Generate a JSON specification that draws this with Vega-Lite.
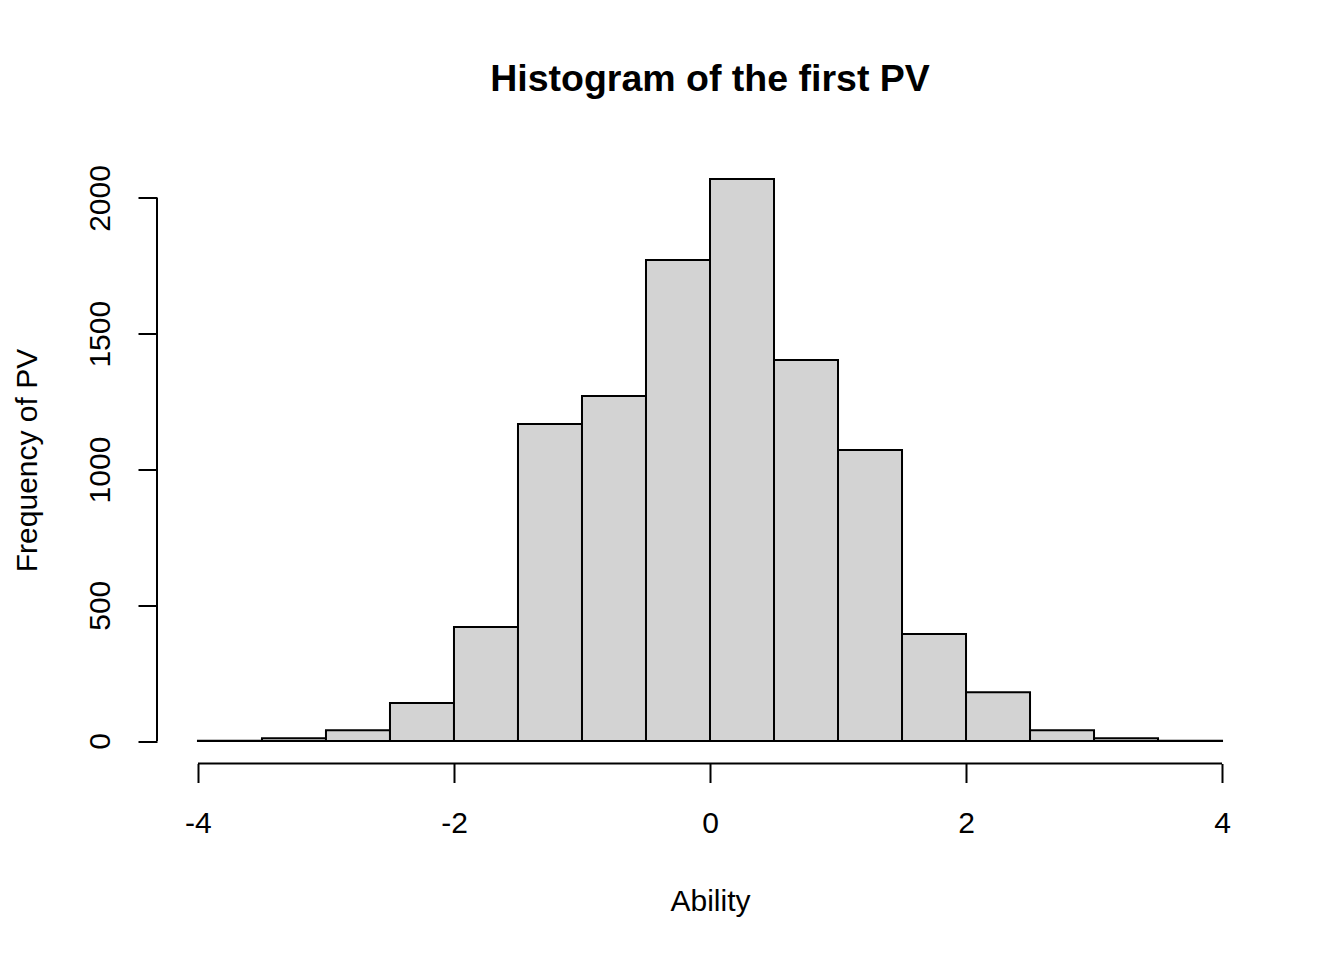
{
  "$schema": "https://vega.github.io/schema/vega-lite/v6.json",
  "width": 1106,
  "height": 607,
  "autosize": {"type": "none"},
  "padding": {"left": 157, "top": 156.5, "right": 81, "bottom": 196.5},
  "background": "white",
  "title": {
    "text": "Histogram of the first PV",
    "font": "Liberation Sans",
    "fontSize": 37.5,
    "fontWeight": "bold",
    "color": "black",
    "anchor": "middle",
    "frame": "group",
    "baseline": "alphabetic",
    "offset": 28
  },
  "config": {"view": {"stroke": null}},
  "layer": [
    {
      "data": {
        "values": [
          {"bin_start": -4.0, "bin_end": -3.5, "count": 1},
          {"bin_start": -3.5, "bin_end": -3.0, "count": 10},
          {"bin_start": -3.0, "bin_end": -2.5, "count": 40},
          {"bin_start": -2.5, "bin_end": -2.0, "count": 140},
          {"bin_start": -2.0, "bin_end": -1.5, "count": 420},
          {"bin_start": -1.5, "bin_end": -1.0, "count": 1168},
          {"bin_start": -1.0, "bin_end": -0.5, "count": 1271},
          {"bin_start": -0.5, "bin_end": 0.0, "count": 1772},
          {"bin_start": 0.0, "bin_end": 0.5, "count": 2070},
          {"bin_start": 0.5, "bin_end": 1.0, "count": 1403},
          {"bin_start": 1.0, "bin_end": 1.5, "count": 1072},
          {"bin_start": 1.5, "bin_end": 2.0, "count": 394},
          {"bin_start": 2.0, "bin_end": 2.5, "count": 180},
          {"bin_start": 2.5, "bin_end": 3.0, "count": 40},
          {"bin_start": 3.0, "bin_end": 3.5, "count": 10},
          {"bin_start": 3.5, "bin_end": 4.0, "count": 1}
        ]
      },
      "mark": {"type": "rect", "fill": "#D3D3D3", "stroke": "black", "strokeWidth": 2},
      "encoding": {
        "x": {
          "field": "bin_start",
          "type": "quantitative",
          "scale": {"domain": [-4.32, 4.32], "nice": false, "zero": false},
          "axis": {
            "values": [-4, -2, 0, 2, 4],
            "labelExpr": "'' + datum.value",
            "domain": false,
            "grid": false,
            "tickSize": 19,
            "tickWidth": 2,
            "tickColor": "black",
            "labelFont": "Liberation Sans",
            "labelFontSize": 30,
            "labelColor": "black",
            "labelPadding": 26,
            "labelFlush": false,
            "labelOverlap": false,
            "title": "Ability",
            "titleFont": "Liberation Sans",
            "titleFontSize": 30,
            "titleFontWeight": "normal",
            "titleColor": "black",
            "titleBaseline": "alphabetic",
            "titleAlign": "center",
            "titleX": 553,
            "titleY": 146.5
          }
        },
        "x2": {"field": "bin_end"},
        "y": {
          "field": "count",
          "type": "quantitative",
          "scale": {"domain": [-82.8, 2152.8], "nice": false, "zero": false},
          "axis": {
            "values": [0, 500, 1000, 1500, 2000],
            "labelExpr": "'' + datum.value",
            "domain": false,
            "grid": false,
            "tickSize": 19,
            "tickWidth": 2,
            "tickColor": "black",
            "labelFont": "Liberation Sans",
            "labelFontSize": 30,
            "labelColor": "black",
            "labelAngle": -90,
            "labelAlign": "center",
            "labelBaseline": "bottom",
            "labelPadding": 23,
            "labelFlush": false,
            "labelOverlap": false,
            "title": "Frequency of PV",
            "titleFont": "Liberation Sans",
            "titleFontSize": 30,
            "titleFontWeight": "normal",
            "titleColor": "black",
            "titleAngle": -90,
            "titleBaseline": "alphabetic",
            "titleAlign": "center",
            "titleX": -121,
            "titleY": 303.5
          }
        },
        "y2": {"datum": 0}
      }
    },
    {
      "data": {"values": [{"from": -4, "to": 4, "at": -82.8}]},
      "mark": {"type": "rule", "stroke": "black", "strokeWidth": 2},
      "encoding": {
        "x": {"field": "from", "type": "quantitative"},
        "x2": {"field": "to"},
        "y": {"field": "at", "type": "quantitative"}
      }
    },
    {
      "data": {"values": [{"from": 0, "to": 2000, "at": -4.32}]},
      "mark": {"type": "rule", "stroke": "black", "strokeWidth": 2},
      "encoding": {
        "y": {"field": "from", "type": "quantitative"},
        "y2": {"field": "to"},
        "x": {"field": "at", "type": "quantitative"}
      }
    }
  ]
}
